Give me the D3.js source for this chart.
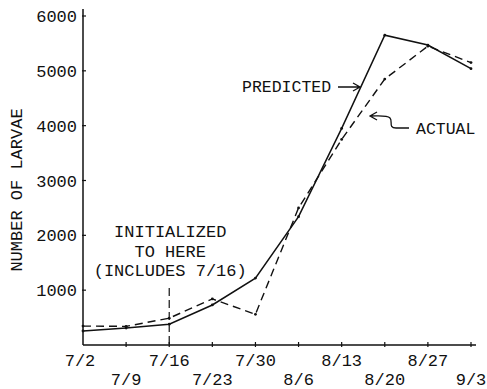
<!DOCTYPE html>
<html>
<head>
<meta charset="utf-8">
<script src="https://cdn.jsdelivr.net/npm/d3@7"></script>
<style>
  body { margin: 0; background: #fff; }
  text { font-family: "Liberation Mono", "DejaVu Sans Mono", monospace; fill: #111; }
</style>
</head>
<body>
<svg id="chart" width="487" height="389" viewBox="0 0 487 389"></svg>
<script>
// weekly sample dates
const dates = ["7/2", "7/9", "7/16", "7/23", "7/30", "8/6", "8/13", "8/20", "8/27", "9/3"];
// number of larvae
const predicted = [255, 310, 380, 730, 1220, 2340, 3950, 5650, 5470, 5040];
const actual = [345, 340, 490, 840, 560, 2500, 3750, 4850, 5450, 5150];
const yTicks = [1000, 2000, 3000, 4000, 5000, 6000];

const svg = d3.select("#chart");
const x = d3.scaleLinear().domain([0, dates.length - 1]).range([83, 471]);
const y = d3.scaleLinear().domain([0, 6000]).range([345, 16]);

const ink = "#111";

// axes
svg.append("line")
  .attr("x1", x(0)).attr("x2", x(0))
  .attr("y1", 9).attr("y2", y(0))
  .attr("stroke", ink).attr("stroke-width", 1.5);
svg.append("line")
  .attr("x1", x(0)).attr("x2", 476)
  .attr("y1", y(0)).attr("y2", y(0))
  .attr("stroke", ink).attr("stroke-width", 1.5);

// y ticks
svg.selectAll(".ytick")
  .data(yTicks)
  .enter()
  .append("line")
  .attr("x1", x(0) - 1).attr("x2", x(0) + 3)
  .attr("y1", d => y(d)).attr("y2", d => y(d))
  .attr("stroke", ink).attr("stroke-width", 1.2);
svg.selectAll(".ylab")
  .data(yTicks)
  .enter()
  .append("text")
  .attr("x", x(0) - 6)
  .attr("y", d => y(d) + 6)
  .attr("text-anchor", "end")
  .attr("font-size", 17)
  .text(d => d);

// x ticks
svg.selectAll(".xtick")
  .data(dates.slice(1))
  .enter()
  .append("line")
  .attr("x1", (d, i) => x(i + 1)).attr("x2", (d, i) => x(i + 1))
  .attr("y1", y(0) - 3).attr("y2", y(0) + 2)
  .attr("stroke", ink).attr("stroke-width", 1.2);
svg.selectAll(".xlab")
  .data(dates)
  .enter()
  .append("text")
  .attr("x", (d, i) => x(i) - (i == 0 ? 3 : 0))
  .attr("y", (d, i) => i % 2 == 0 ? 366 : 385)
  .attr("text-anchor", "middle")
  .attr("font-size", 17)
  .text(d => d);

// y axis title
svg.append("text")
  .attr("transform", "translate(22,190) rotate(-90)")
  .attr("text-anchor", "middle")
  .attr("font-size", 17)
  .text("NUMBER OF LARVAE");

// series lines
const line = d3.line()
  .x((d, i) => x(i))
  .y(d => y(d));

svg.append("path")
  .attr("d", line(actual))
  .attr("fill", "none")
  .attr("stroke", ink)
  .attr("stroke-width", 1.4)
  .attr("stroke-dasharray", "8,5");

svg.append("path")
  .attr("d", line(predicted))
  .attr("fill", "none")
  .attr("stroke", ink)
  .attr("stroke-width", 1.5);

// small vertex marks
[predicted, actual].forEach(series => {
  svg.append("g").selectAll("circle")
    .data(series)
    .enter()
    .append("circle")
    .attr("cx", (d, i) => x(i))
    .attr("cy", d => y(d))
    .attr("r", 1.4)
    .attr("fill", ink);
});

// "initialized" marker at 7/16
svg.append("line")
  .attr("x1", x(2)).attr("x2", x(2))
  .attr("y1", 288).attr("y2", y(0) + 3)
  .attr("stroke", ink).attr("stroke-width", 1.2)
  .attr("stroke-dasharray", "8,4");

const notes = ["INITIALIZED", "TO HERE", "(INCLUDES 7/16)"];
svg.selectAll(".note")
  .data(notes)
  .enter()
  .append("text")
  .attr("x", x(2) + 1)
  .attr("y", (d, i) => 237 + i * 19.5)
  .attr("text-anchor", "middle")
  .attr("font-size", 17)
  .text(d => d);

// series labels with arrows
svg.append("text")
  .attr("x", 242).attr("y", 92)
  .attr("font-size", 16.5)
  .text("PREDICTED");
svg.append("path")
  .attr("d", "M338,87 L360,87 M353,83 L360,87 L353,91")
  .attr("fill", "none").attr("stroke", ink).attr("stroke-width", 1.3);

svg.append("text")
  .attr("x", 416).attr("y", 134)
  .attr("font-size", 16.5)
  .text("ACTUAL");
svg.append("path")
  .attr("d", "M409,128 L396,128 C388,128 393,121 390,118 C387,115 380,116 370,116 M377,112 L370,116 L377,120")
  .attr("fill", "none").attr("stroke", ink).attr("stroke-width", 1.3);
</script>
</body>
</html>
